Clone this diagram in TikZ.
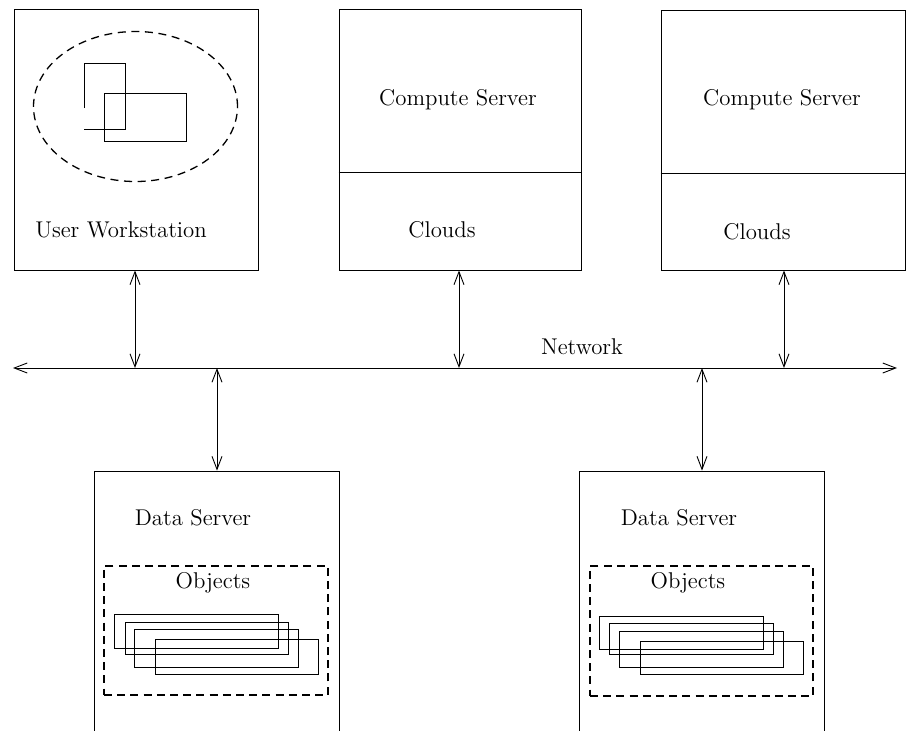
\documentclass[tikz,border=0pt]{standalone}
\usetikzlibrary{arrows.meta,shapes.geometric}
\begin{document}
\begin{tikzpicture}[x=0.5pt,y=-0.5pt,
  line width=0.45pt,
  >={Straight Barb[length=6.5pt,width=5pt]},
  box/.style={draw,rectangle,inner sep=0pt},
  lbl/.style={inner sep=0pt,font=\fontsize{11.4}{13}\selectfont},
  dashbox/.style={draw,rectangle,inner sep=0pt,line width=0.6pt,dash pattern=on 4pt off 2.6pt},
  dashell/.style={draw,ellipse,inner sep=0pt,line width=0.65pt,dash pattern=on 4pt off 2.8pt},
  link/.style={<->}]
\clip (0,0) rectangle (907,730);
\fill[white] (0,0) rectangle (907,730);

% User workstation
\node[box,minimum width=122pt,minimum height=130.5pt] (uw) at (136,139.5) {};
\node[dashell,minimum width=102pt,minimum height=75pt] (win) at (135.5,106.5) {};
\draw (84,108) -- (84,63) -- (125,63) -- (125,129) -- (84,129);
\draw (104,93) rectangle (186,141);
\node[lbl] (uwl) at (121,230) {User Workstation};

% Compute servers
\node[box,minimum width=121pt,minimum height=130.5pt] (cs1) at (460,139.5) {};
\coordinate (cs1d) at (460,172);
\draw (cs1.west |- cs1d) -- (cs1.east |- cs1d);
\node[lbl] (cs1l) at (458,100) {Compute Server};
\node[lbl] (cl1) at (442,230) {Clouds};

\node[box,minimum width=122pt,minimum height=130pt] (cs2) at (783,140) {};
\coordinate (cs2d) at (783,173);
\draw (cs2.west |- cs2d) -- (cs2.east |- cs2d);
\node[lbl] (cs2l) at (782,100) {Compute Server};
\node[lbl] (cl2) at (757,232) {Clouds};

% Network
\coordinate (netL) at (13,368);
\coordinate (netR) at (897,368);
\draw[link] (netL) -- (netR);
\node[lbl] (netl) at (582,347) {Network};

\coordinate (n1) at (135,368);
\coordinate (n2) at (459,368);
\coordinate (n3) at (784,368);
\coordinate (n4) at (217,368);
\coordinate (n5) at (702,368);

% Data servers
\node[box,minimum width=122.5pt,minimum height=144.5pt] (ds1) at (216.5,615.5) {};
\node[lbl] (ds1l) at (193,518) {Data Server};
\node[dashbox,minimum width=112pt,minimum height=64.5pt] (ob1) at (216,630.5) {};
\node[lbl] (ob1l) at (213,583) {Objects};
\draw (114,614) rectangle (278,648);
\draw (125,622) rectangle (288,654);
\draw (134,629) rectangle (298,667);
\draw (155,639) rectangle (318,674);

\node[box,minimum width=122.5pt,minimum height=144.5pt] (ds2) at (701.5,615.5) {};
\node[lbl] (ds2l) at (679,518) {Data Server};
\node[dashbox,minimum width=111.5pt,minimum height=65pt] (ob2) at (701.5,631) {};
\node[lbl] (ob2l) at (688,583) {Objects};
\draw (599,616) rectangle (763,649);
\draw (609,623) rectangle (773,654);
\draw (619,631) rectangle (783,667);
\draw (640,641) rectangle (803,674);

% Links
\draw[link] (uw.south -| n1) -- (n1);
\draw[link] (cs1.south -| n2) -- (n2);
\draw[link] (cs2.south -| n3) -- (n3);
\draw[link] (n4) -- (ds1.north -| n4);
\draw[link] (n5) -- (ds2.north -| n5);
\end{tikzpicture}
\end{document}
